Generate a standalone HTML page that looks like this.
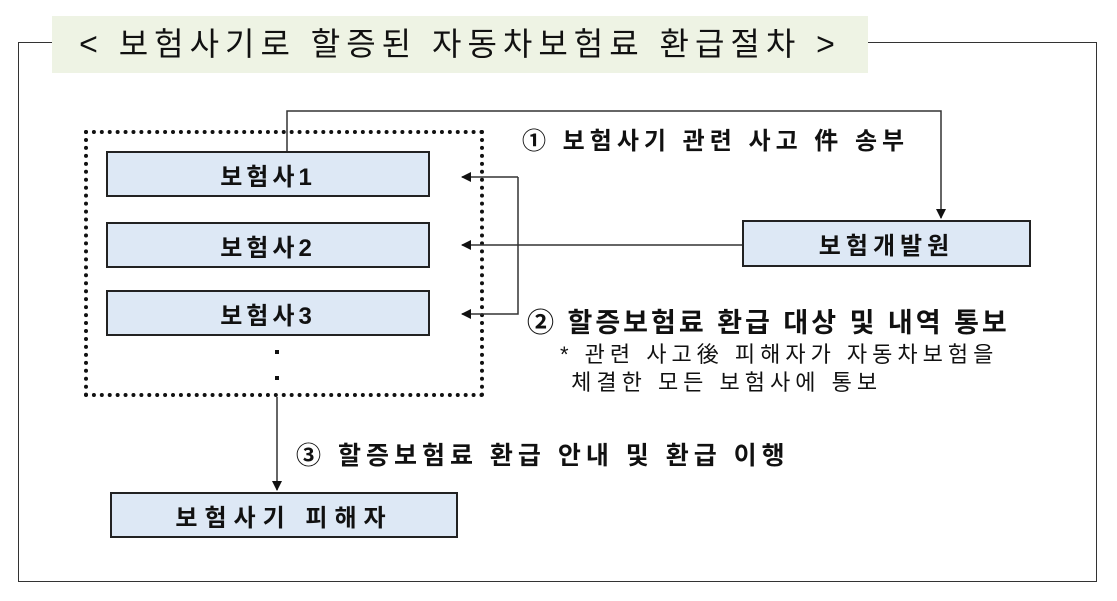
<!DOCTYPE html>
<html><head><meta charset="utf-8"><style>
html,body{margin:0;padding:0;background:#fff;}
body{width:1117px;height:601px;position:relative;overflow:hidden;font-family:"Liberation Sans","Noto Sans CJK KR","NanumGothic",sans-serif;color:#111;}
.a{position:absolute;}
.box{position:absolute;background:#dde8f5;border:2px solid #222;box-sizing:border-box;display:flex;align-items:center;justify-content:center;font-weight:bold;font-size:24px;letter-spacing:4px;}
.t{position:absolute;white-space:nowrap;font-weight:bold;}
</style></head><body>
<div class="a" style="left:18px;top:42px;width:1079px;height:540px;border:1.5px solid #333;box-sizing:border-box;"></div>
<div class="a" style="left:52px;top:16px;width:816px;height:57px;background:#eef3e4;"></div>
<div class="t" style="left:52px;top:16px;width:816px;height:57px;line-height:57px;text-align:center;font-size:32px;font-weight:normal;letter-spacing:6px;">&lt; 보험사기로 할증된 자동차보험료 환급절차 &gt;</div>
<div class="a" style="left:84px;top:130px;width:400px;height:267px;border:4px dotted #111;box-sizing:border-box;"></div>
<div class="box" style="left:106px;top:151px;width:324px;height:46px;">보험사1</div>
<div class="box" style="left:106px;top:222px;width:324px;height:46px;">보험사2</div>
<div class="box" style="left:106px;top:290px;width:324px;height:46px;">보험사3</div>
<div class="a" style="left:275px;top:350px;width:4px;height:4px;background:#111;"></div>
<div class="a" style="left:275px;top:376px;width:4px;height:4px;background:#111;"></div>
<div class="box" style="left:742px;top:220px;width:289px;height:47px;letter-spacing:5px;">보험개발원</div>
<div class="box" style="left:110px;top:492px;width:348px;height:46px;letter-spacing:7px;">보험사기 피해자</div>
<svg class="a" style="left:0;top:0" width="1117" height="601">
<defs><marker id="m" markerWidth="10" markerHeight="10" refX="9" refY="5" orient="auto" markerUnits="userSpaceOnUse"><path d="M0,0 L10,5 L0,10 z" fill="#111"/></marker></defs>
<g stroke="#333" stroke-width="1.5" fill="none">
<path d="M287,151 V111 H941 V218" marker-end="url(#m)"/>
<path d="M742,245 H462" marker-end="url(#m)"/>
<path d="M518,177 H462" marker-end="url(#m)"/>
<path d="M518,177 V314 H462" marker-end="url(#m)"/>
<path d="M277,397 V490" marker-end="url(#m)"/>
</g></svg>
<div class="t" style="left:522px;top:121px;font-size:24px;letter-spacing:5px;">① 보험사기 관련 사고 件 송부</div>
<div class="t" style="left:527px;top:301px;font-size:27px;letter-spacing:3px;">② 할증보험료 환급 대상 및 내역 통보</div>
<div class="t" style="left:560px;top:341px;font-size:22px;font-weight:normal;line-height:28px;letter-spacing:5px;">* 관련 사고後 피해자가 자동차보험을<br>&nbsp;체결한 모든 보험사에 통보</div>
<div class="t" style="left:296px;top:436px;font-size:25px;letter-spacing:5px;">③ 할증보험료 환급 안내 및 환급 이행</div>
</body></html>
